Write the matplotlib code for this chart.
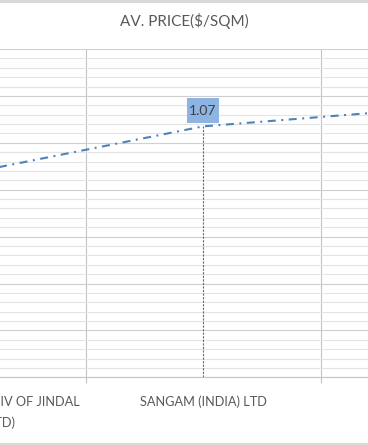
import matplotlib
matplotlib.use("Agg")
import matplotlib.pyplot as plt
from matplotlib.patches import Rectangle
from matplotlib.ticker import MultipleLocator, FixedLocator
from matplotlib.transforms import ScaledTranslation, Affine2D
import numpy as np

# chart data (left and right companies are mostly cropped out of view)
companies = ["JSL ARCHITECTURE (A DIV OF JINDAL\nSTAINLESS LTD)",
             "SANGAM (INDIA) LTD",
             "OTHERS"]
av_price = [0.87, 1.07, 1.15]
labelled = [False, True, False]

plt.rcParams['font.family'] = ['Lato', 'DejaVu Sans']

fig = plt.figure(figsize=(3.68, 4.45), dpi=100)
ax = fig.add_axes([0, 0.1521, 1, 0.7378])

x = np.arange(len(companies))

# category labels drawn by hand so the half-visible left one still shows
ax.set_xticks(x, labels=[''] * len(x))
lab_trans = ax.get_xaxis_transform() + ScaledTranslation(0, -13 / 72, fig.dpi_scale_trans)
for xi, name in zip(x, companies):
    ax.text(xi, 0, name, transform=lab_trans, ha='center', va='top',
            fontsize=9.2, color='#595959', linespacing=1.8, clip_on=False)
ax.xaxis.set_minor_locator(FixedLocator(x[:-1] + 0.5))

ax.set_ylim(0, 1.4)
ax.set_xlim(0.136, 1.702)

# price line, dash-dot like the excel style
ax.plot(x, av_price, color='#4F81BD', lw=1.5,
        linestyle=(0, (3.84, 2.64, 0.96, 2.64)), zorder=3)

# drop lines from each point to the axis
ax.vlines(x, 0, av_price, colors='#6a6a6a', lw=0.8,
          linestyles=(0, (2, 1.2)), zorder=2)

# data label with a filled box (box size in pixels, anchored on the point)
for xi, v, show in zip(x, av_price, labelled):
    if show:
        px, py = ax.transData.transform((xi, v))
        box_tr = Affine2D().translate(px, py)
        ax.add_artist(Rectangle((-16, 3), 32, 25, transform=box_tr,
                                fc='#8EB4E3', ec='none', zorder=4, clip_on=False))
        ax.annotate(f"{v:.2f}", (xi, v), xytext=(0, 11.2),
                    textcoords='offset points', ha='center', va='center',
                    fontsize=10, color='#404040', zorder=5)

ax.yaxis.set_major_locator(MultipleLocator(0.2))
ax.yaxis.set_minor_locator(MultipleLocator(0.04))
ax.grid(axis='y', which='major', color='#cfcfcf', lw=0.8)
ax.grid(axis='y', which='minor', color='#e4e4e4', lw=0.8)
ax.tick_params(axis='y', which='both', left=False, labelleft=False)

ax.grid(axis='x', which='minor', color='#c4c4c4', lw=0.8)
ax.tick_params(axis='x', which='major', length=0)
ax.tick_params(axis='x', which='minor', length=4, width=0.8, color='#c4c4c4')
ax.set_axisbelow(True)

for s in ['left', 'right', 'top']:
    ax.spines[s].set_visible(False)
ax.spines['bottom'].set_color('#c4c4c4')
ax.spines['bottom'].set_linewidth(0.8)

fig.text(0.5, 1 - 21 / 445, "AV. PRICE($/SQM)", ha='center', va='center',
         fontsize=11, color='#595959')

# light frame edges at top and bottom of the crop
fig.patches.append(Rectangle((0, 1 - 2.5 / 445), 1, 2.5 / 445, transform=fig.transFigure,
                             fc='#d9d9d9', ec='none'))
fig.patches.append(Rectangle((0, 0), 1, 2.5 / 445, transform=fig.transFigure,
                             fc='#d9d9d9', ec='none'))

fig.savefig("out.png", dpi=100)
